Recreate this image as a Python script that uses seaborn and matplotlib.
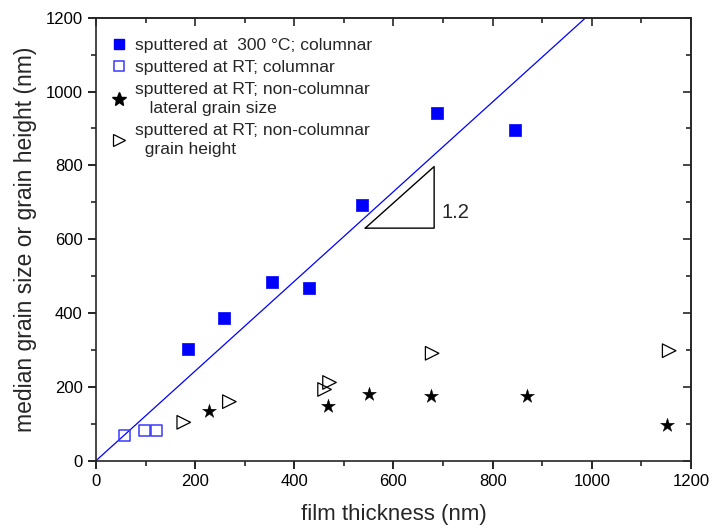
import matplotlib
matplotlib.use("Agg")
import matplotlib.pyplot as plt
from matplotlib.ticker import MultipleLocator
from matplotlib.lines import Line2D
import numpy as np
import pandas as pd
import seaborn as sns

# Columnar films sputtered at 300 °C
hot_thickness = [185, 258, 354, 430, 536, 687, 846]
hot_grain = [302, 386, 484, 467, 693, 943, 895]

# Columnar films sputtered at room temperature
rt_col_thickness = [58, 97, 122]
rt_col_grain = [69, 81, 83]

# Non-columnar RT films: lateral grain size
rt_lat_thickness = [227, 468, 551, 675, 869, 1152]
rt_lat_grain = [135, 147, 180, 176, 176, 97]

# Non-columnar RT films: grain height
rt_h_thickness = [177, 269, 461, 471, 678, 1156]
rt_h_grain = [104, 160, 193, 212, 291, 298]

# Guide line through the origin
fit_slope = 1.215
# Slope triangle
tri_x0, tri_x1, tri_y0, tri_slope = 543, 682, 630, 1.2

sns.set_style("ticks")
plt.rcParams["font.family"] = ["Liberation Sans", "DejaVu Sans"]
plt.rcParams["axes.linewidth"] = 1.2

fig = plt.figure(figsize=(7.12, 5.32), dpi=100)
ax = fig.add_axes([0.1348, 0.134, 0.9705 - 0.1348, 0.9667 - 0.134])

blue = "#0000ff"
light_blue = "#3a3aff"

fit_x = np.array([0, 1200 / fit_slope])
sns.lineplot(x=fit_x, y=fit_slope * fit_x, ax=ax, color=blue, lw=0.9,
             legend=False)

sns.scatterplot(x=hot_thickness, y=hot_grain, ax=ax, marker="s", s=72,
                color=blue, edgecolor=blue, linewidth=0.5, zorder=3)
sns.scatterplot(x=rt_col_thickness, y=rt_col_grain, ax=ax, marker="s", s=62,
                facecolor="none", edgecolor=light_blue, linewidth=1.1, zorder=3)
sns.scatterplot(x=rt_lat_thickness, y=rt_lat_grain, ax=ax, marker="*", s=110,
                color="black", edgecolor="black", linewidth=0.3, zorder=3)
sns.scatterplot(x=rt_h_thickness, y=rt_h_grain, ax=ax, marker=">", s=95,
                facecolor="none", edgecolor="black", linewidth=0.9, zorder=3)

# Slope triangle with its label
tri_y1 = tri_y0 + tri_slope * (tri_x1 - tri_x0)
ax.plot([tri_x0, tri_x1, tri_x1, tri_x0], [tri_y0, tri_y0, tri_y1, tri_y0],
        color="black", lw=1.0)
ax.text(tri_x1 + 14, (tri_y0 + tri_y1) / 2 - 40, "1.2", fontsize=14.5,
        va="center", ha="left")

ax.set_xlim(0, 1200)
ax.set_ylim(0, 1200)
ax.xaxis.set_major_locator(MultipleLocator(200))
ax.xaxis.set_minor_locator(MultipleLocator(100))
ax.yaxis.set_major_locator(MultipleLocator(200))
ax.yaxis.set_minor_locator(MultipleLocator(100))
ax.tick_params(which="major", direction="out", length=6, width=1.2,
               labelsize=12, colors="black")
ax.tick_params(which="minor", direction="out", length=3.5, width=1.2)

# Mirrored inward ticks on top and right
top = ax.secondary_xaxis("top")
top.xaxis.set_major_locator(MultipleLocator(200))
top.xaxis.set_minor_locator(MultipleLocator(100))
top.tick_params(which="major", direction="in", length=6, width=1.2,
                labeltop=False)
top.tick_params(which="minor", direction="in", length=3.5, width=1.2)
right = ax.secondary_yaxis("right")
right.yaxis.set_major_locator(MultipleLocator(200))
right.yaxis.set_minor_locator(MultipleLocator(100))
right.tick_params(which="major", direction="in", length=6, width=1.2,
                  labelright=False)
right.tick_params(which="minor", direction="in", length=3.5, width=1.2)
for sp in ax.spines.values():
    sp.set_visible(True)
    sp.set_linewidth(1.2)

ax.set_xlabel("film thickness (nm)", fontsize=16, labelpad=11)
ax.set_ylabel("median grain size or grain height (nm)", fontsize=16.5,
              labelpad=6)

handles = [
    Line2D([], [], ls="none", marker="s", ms=7, color=blue),
    Line2D([], [], ls="none", marker="s", ms=7, mfc="none", mec=light_blue,
           mew=1.1),
    Line2D([], [], ls="none", marker="*", ms=10, color="black"),
    Line2D([], [], ls="none", marker=">", ms=9, mfc="none", mec="black",
           mew=0.9),
]
labels = [
    "sputtered at  300 °C; columnar",
    "sputtered at RT; columnar",
    "sputtered at RT; non-columnar\n   lateral grain size",
    "sputtered at RT; non-columnar\n  grain height",
]
leg = ax.legend(handles, labels, loc="upper left", frameon=False,
                fontsize=12.6, handlelength=0.8, handletextpad=0.55,
                labelspacing=0.4, bbox_to_anchor=(0.0, 0.99),
                borderaxespad=0.5)
for t in leg.get_texts():
    t.set_linespacing(1.3)

fig.savefig("out.png", dpi=100)
